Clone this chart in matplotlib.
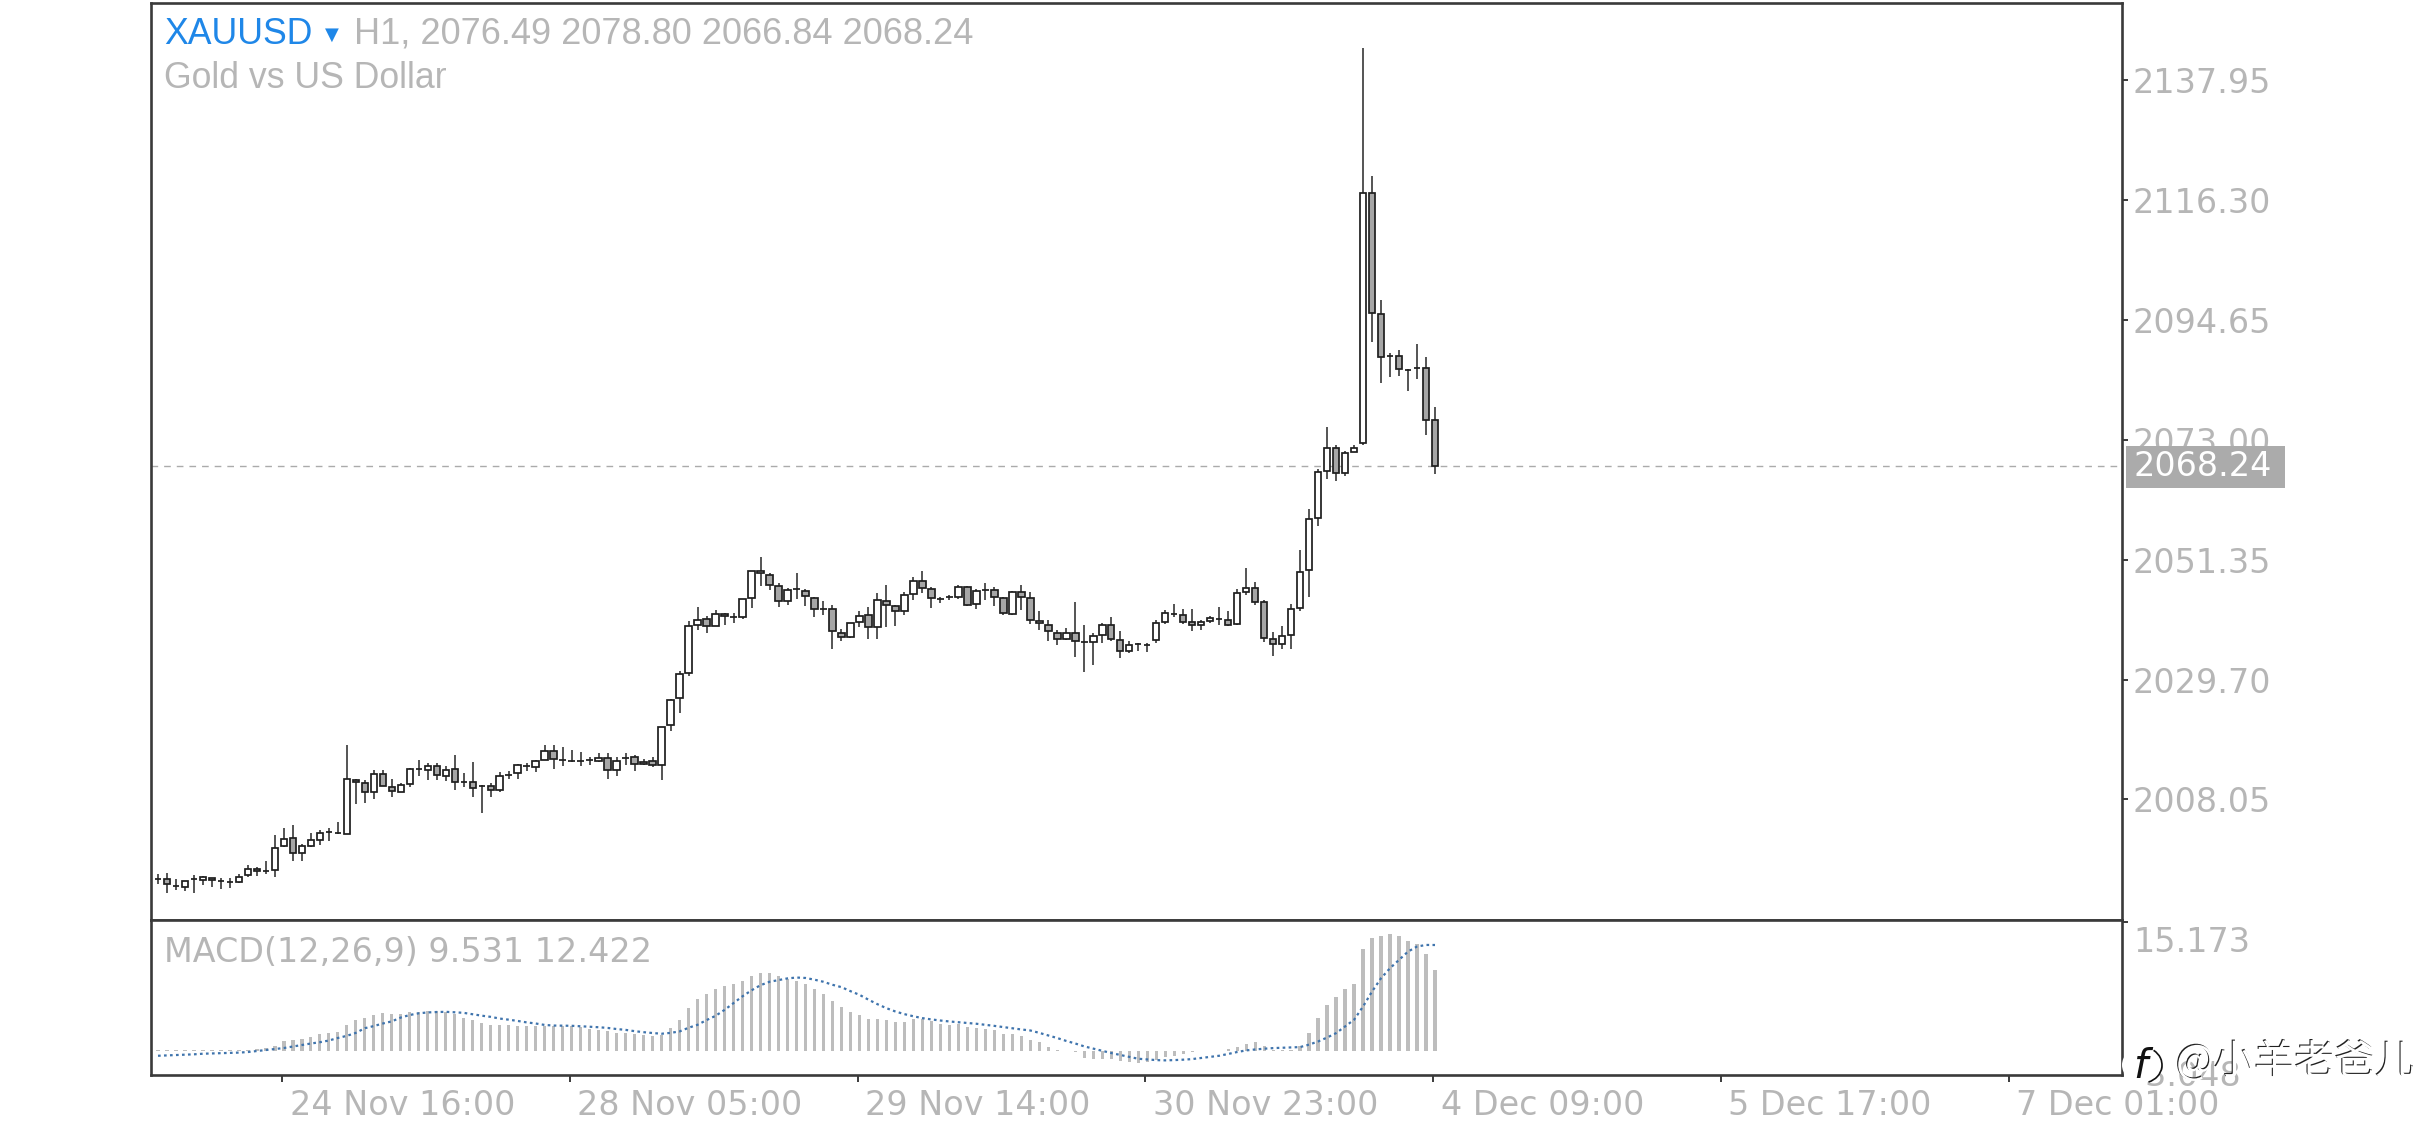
import matplotlib
matplotlib.use("Agg")
import matplotlib.pyplot as plt
import matplotlib.patheffects as pe
from matplotlib.patches import Rectangle, Ellipse, Arc
from matplotlib.transforms import ScaledTranslation, blended_transform_factory

opens = [
 1993.75,1993.63,1992.43,1992.31,1993.69,1993.57,1993.93,1993.33,1993.21,1993.21,
 1994.47,1995.43,1995.19,1995.25,1999.59,2001.15,1998.32,1999.71,2000.73,2002.11,
 2001.99,2001.81,2011.62,2011.08,2009.33,2012.70,2010.30,2009.45,2010.90,2013.54,
 2013.30,2014.09,2012.34,2013.48,2011.26,2011.26,2010.42,2010.54,2009.69,2012.46,
 2012.76,2014.09,2013.85,2015.23,2016.85,2015.23,2014.93,2014.93,2015.17,2015.05,
 2015.59,2013.30,2015.47,2015.77,2014.87,2014.99,2014.33,2021.49,2026.36,2030.82,
 2039.60,2040.56,2039.42,2041.53,2040.93,2040.93,2044.36,2048.87,2048.51,2046.58,
 2043.93,2046.04,2045.62,2044.36,2042.43,2042.49,2038.16,2037.32,2040.02,2041.35,
 2039.12,2043.93,2042.91,2042.07,2045.14,2047.54,2046.04,2044.17,2044.54,2044.54,
 2046.46,2043.27,2045.92,2045.86,2044.36,2041.53,2045.44,2044.36,2039.84,2039.60,
 2038.16,2036.95,2038.16,2036.47,2036.47,2037.80,2039.48,2036.83,2034.79,2036.11,
 2035.99,2036.83,2040.02,2041.59,2041.35,2040.02,2039.48,2040.20,2040.56,2040.37,
 2039.75,2045.45,2046.22,2043.60,2036.98,2036.06,2037.75,2042.60,2049.38,2058.77,
 2067.39,2071.47,2067.01,2070.78,2072.40,2117.52,2095.73,2088.03,2088.03,2085.57,
 2085.87,2085.95,2076.49]
highs = [
 1994.59,1994.71,1993.75,1993.39,1994.41,1994.23,1993.93,1993.81,1993.93,1994.59,
 1996.16,1995.91,1996.88,2001.69,2002.89,2003.38,2000.01,2002.05,2002.53,2002.89,
 2003.98,2017.88,2011.80,2011.56,2013.36,2013.36,2011.68,2010.96,2013.66,2015.17,
 2014.57,2014.69,2014.09,2016.01,2012.88,2014.75,2010.66,2010.96,2013.00,2013.24,
 2014.45,2014.57,2015.17,2017.82,2017.82,2017.58,2016.97,2016.61,2015.65,2016.49,
 2016.37,2015.77,2016.37,2016.01,2015.29,2015.77,2021.19,2026.20,2031.18,2040.20,
 2042.73,2041.17,2042.25,2041.65,2041.77,2044.29,2049.35,2051.76,2048.87,2047.18,
 2046.16,2048.99,2045.98,2044.54,2043.81,2043.21,2038.88,2039.96,2042.13,2042.73,
 2045.38,2046.70,2043.21,2045.50,2048.15,2049.35,2046.34,2044.66,2045.02,2046.70,
 2046.58,2045.98,2047.06,2046.34,2044.54,2045.62,2046.70,2045.50,2042.01,2040.44,
 2038.64,2039.00,2043.69,2039.48,2038.04,2039.96,2041.05,2038.40,2036.71,2036.35,
 2036.23,2040.44,2042.25,2043.33,2042.49,2042.37,2040.44,2041.17,2042.85,2042.06,
 2046.06,2049.91,2047.22,2044.14,2038.36,2039.29,2043.37,2053.15,2060.54,2067.62,
 2075.32,2072.09,2070.86,2072.09,2143.70,2120.60,2098.12,2088.72,2089.18,2085.80,
 2090.26,2087.95,2078.80]
lows = [
 1992.79,1991.22,1991.70,1991.46,1991.22,1992.67,1992.19,1991.82,1992.00,1993.03,
 1994.11,1994.23,1994.59,1994.11,1999.41,1997.00,1996.88,1999.41,1999.77,2000.49,
 2001.81,2001.81,2007.23,2007.47,2008.19,2010.48,2008.55,2009.39,2010.24,2012.28,
 2011.56,2011.56,2011.32,2009.75,2010.36,2008.55,2005.54,2008.55,2009.39,2011.80,
 2011.68,2013.24,2013.00,2015.17,2013.60,2014.09,2014.81,2014.09,2014.33,2014.81,
 2011.68,2012.28,2014.27,2013.24,2014.33,2013.85,2011.56,2020.34,2023.59,2030.40,
 2038.64,2038.04,2039.36,2039.60,2039.84,2040.69,2042.61,2046.58,2045.86,2042.73,
 2043.15,2044.29,2042.97,2040.93,2041.29,2035.27,2036.59,2037.20,2039.12,2037.07,
 2036.95,2039.12,2039.36,2041.41,2044.05,2045.26,2042.61,2043.57,2044.05,2044.17,
 2042.97,2042.37,2044.05,2042.97,2041.29,2041.41,2042.25,2039.72,2038.64,2036.59,
 2035.87,2036.83,2033.71,2031.06,2032.26,2036.35,2036.59,2033.58,2034.55,2034.79,
 2034.67,2036.35,2039.72,2040.93,2039.72,2038.52,2038.64,2039.84,2039.54,2039.29,
 2039.60,2044.91,2043.14,2036.52,2033.90,2035.13,2035.28,2042.06,2044.68,2057.46,
 2065.93,2065.62,2066.39,2070.70,2071.94,2090.57,2083.18,2084.26,2084.56,2081.79,
 2083.95,2073.78,2066.84]
closes = [
 1993.75,1992.79,1992.43,1993.39,1993.69,1993.99,1993.45,1993.33,1993.21,1994.11,
 1995.43,1995.07,1995.19,1999.22,2000.91,1998.32,1999.59,2000.67,2002.05,2002.11,
 2001.99,2011.68,2011.26,2009.33,2012.58,2010.48,2009.51,2010.72,2013.54,2013.54,
 2014.03,2012.40,2013.30,2011.26,2011.26,2010.12,2010.42,2009.69,2012.22,2012.46,
 2014.27,2014.09,2015.05,2016.85,2015.41,2015.23,2014.93,2014.93,2015.17,2015.59,
 2013.30,2015.05,2015.47,2014.51,2014.51,2014.33,2021.19,2026.00,2030.64,2039.42,
 2040.38,2039.30,2041.53,2041.17,2040.93,2044.17,2049.23,2049.23,2046.82,2043.93,
 2045.86,2046.04,2044.72,2042.49,2042.43,2038.40,2037.44,2039.84,2041.17,2039.12,
 2044.00,2043.09,2042.07,2044.90,2047.54,2046.28,2044.36,2044.17,2044.54,2046.46,
 2043.21,2045.68,2045.92,2044.54,2041.77,2045.50,2044.54,2040.44,2040.20,2038.40,
 2037.01,2038.16,2036.65,2036.47,2037.62,2039.48,2036.95,2034.79,2035.87,2036.11,
 2035.99,2039.84,2041.77,2041.59,2040.14,2039.48,2040.02,2040.81,2040.56,2039.60,
 2045.29,2046.22,2043.75,2037.21,2036.06,2037.59,2042.44,2049.14,2058.62,2067.24,
 2071.55,2067.01,2070.63,2071.55,2117.52,2095.81,2087.88,2088.03,2085.80,2085.57,
 2085.87,2076.63,2068.24]
macd_hist = [
 0.05,0.10,0.10,0.05,0.10,0.10,0.05,0.10,0.10,0.10,
 0.10,0.20,0.30,0.51,1.09,1.21,1.41,1.60,1.92,2.07,
 2.19,3.01,3.64,3.83,4.22,4.42,4.34,4.34,4.57,4.61,
 4.69,4.65,4.61,4.34,3.83,3.64,3.25,3.05,3.01,2.97,
 2.93,2.93,2.85,2.93,2.85,2.85,2.85,2.74,2.54,2.46,
 2.31,2.07,2.07,1.99,1.88,1.68,1.88,2.62,3.64,5.00,
 6.06,6.69,7.27,7.62,7.86,8.25,8.80,9.15,9.15,8.80,
 8.48,8.25,7.86,7.31,6.69,5.90,5.12,4.61,4.22,3.75,
 3.75,3.64,3.36,3.40,3.71,3.71,3.44,3.17,3.05,3.09,
 2.78,2.70,2.54,2.38,1.96,1.96,1.76,1.29,0.98,0.39,
 0.04,-0.04,-0.20,-0.86,-0.94,-0.94,-1.02,-1.25,-1.33,-1.41,
 -1.37,-1.13,-0.74,-0.59,-0.35,-0.20,-0.08,-0.04,0.02,0.20,
 0.43,0.82,0.98,0.59,0.12,0.04,0.04,0.59,2.07,3.79,
 5.36,6.26,7.23,7.86,11.96,13.29,13.53,13.69,13.49,12.94,
 12.55,11.34,9.531]
macd_signal = [
 -0.59,-0.55,-0.52,-0.48,-0.42,-0.35,-0.32,-0.28,-0.26,-0.22,
 -0.15,-0.03,0.08,0.20,0.32,0.50,0.68,0.85,1.00,1.20,
 1.50,1.75,2.10,2.65,2.90,3.20,3.45,3.90,4.20,4.40,
 4.50,4.55,4.57,4.52,4.45,4.28,4.12,3.98,3.78,3.65,
 3.50,3.33,3.20,3.03,2.96,2.94,2.93,2.88,2.82,2.76,
 2.68,2.55,2.45,2.30,2.18,2.08,2.00,2.10,2.27,2.70,
 3.05,3.60,4.10,4.80,5.60,6.40,7.10,7.70,8.10,8.30,
 8.50,8.60,8.55,8.35,8.10,7.75,7.47,7.00,6.57,6.00,
 5.47,5.00,4.61,4.30,4.05,3.83,3.68,3.55,3.44,3.35,
 3.25,3.17,3.05,2.92,2.78,2.65,2.50,2.38,2.10,1.80,
 1.49,1.15,0.85,0.51,0.25,0.00,-0.27,-0.50,-0.72,-0.94,
 -1.02,-1.10,-1.13,-1.10,-1.05,-0.98,-0.85,-0.72,-0.59,-0.38,
 -0.15,0.04,0.15,0.24,0.31,0.35,0.38,0.43,0.72,1.09,
 1.55,2.07,2.85,3.64,5.20,6.96,8.52,9.70,10.67,11.65,
 12.24,12.43,12.422]
price_ticks = [2137.95, 2116.30, 2094.65, 2073.00, 2051.35, 2029.70, 2008.05]
time_tick_bars = [14, 46, 78, 110, 142, 174, 206]
time_tick_labels = ["24 Nov 16:00", "28 Nov 05:00", "29 Nov 14:00", "30 Nov 23:00",
                    "4 Dec 09:00", "5 Dec 17:00", "7 Dec 01:00"]
macd_labels = [15.173, -3.048]
last_price = 2068.24

W, H = 2436, 1125
GREY = "#b6b6b6"
FRAME = "#3a3a3a"
AXFONT = "DejaVu Sans"
HEADFONT = "Liberation Sans"
AXSIZE = 24

def fx(x): return x / W
def fy(y): return 1 - y / H

fig = plt.figure(figsize=(W / 100, H / 100), dpi=100, facecolor="white")
ax = fig.add_axes([fx(151), fy(920), fx(2122) - fx(151), fy(3) - fy(920)])
ax2 = fig.add_axes([fx(151), fy(1075), fx(2122) - fx(151), fy(920) - fy(1075)], sharex=ax)

xs = list(range(len(opens)))
step = 8.993
ax.set_xlim((151 - 158) / step, (2122 - 158) / step)
ax.set_ylim(1986.29, 2151.81)
ax2.set_ylim(-2.85, 15.36)

# candles
ax.vlines(xs, lows, highs, color="#262626", lw=1.1, zorder=2)
body_bottom = [min(o, c) for o, c in zip(opens, closes)]
body_height = [abs(c - o) for o, c in zip(opens, closes)]
face = ["white" if c > o else ("#a6a6a6" if c < o else "black") for o, c in zip(opens, closes)]
ax.bar(xs, body_height, bottom=body_bottom, width=0.72, color=face, edgecolor="#1e1e1e",
       linewidth=1.25, zorder=3)
ax.axhline(last_price, color="#ababab", lw=1.0, dashes=(4.8, 4.3), zorder=1)

# MACD
ax2.bar(xs, macd_hist, width=0.36, color="#bdbdbd", linewidth=0, zorder=2)
ax2.plot(xs, macd_signal, color="#3f74ad", lw=1.6, dashes=(1.2, 1.5), zorder=3)

for a in (ax, ax2):
    for s in a.spines.values():
        s.set_color(FRAME)
        s.set_linewidth(1.9)
    a.yaxis.tick_right()

ax.set_yticks(price_ticks)
ax.set_yticklabels([f"{v:.2f}" for v in price_ticks], fontfamily=AXFONT, fontsize=AXSIZE, color=GREY)
ax.tick_params(axis="y", direction="out", length=4.5, width=1.4, color=FRAME, pad=3, right=True)
ax.tick_params(axis="x", bottom=False, labelbottom=False)

ax2.set_yticks([macd_labels[0]])
ax2.set_yticklabels([])
ax2.tick_params(axis="y", direction="out", length=4.5, width=1.4, color=FRAME)
blend = blended_transform_factory(ax2.transAxes, ax2.transData)
for v, dy in zip(macd_labels, (-21, 0)):
    ax2.text(1.0, v, f"{v:.3f}", transform=blend + ScaledTranslation(11 / 100, dy / 100, fig.dpi_scale_trans),
             fontfamily=AXFONT, fontsize=AXSIZE, color=GREY, va="center", ha="left", clip_on=False)

ax2.set_xticks([b - 0.2 for b in time_tick_bars])
ax2.set_xticklabels(time_tick_labels, fontfamily=AXFONT, fontsize=AXSIZE, color=GREY, ha="left")
ax2.tick_params(axis="x", direction="out", length=5, width=1.4, color=FRAME, pad=5)
for t in ax2.get_xticklabels():
    t.set_transform(t.get_transform() + ScaledTranslation(7.5 / 100, 0, fig.dpi_scale_trans))

# header
fig.text(fx(164), fy(34), "XAUUSD", fontfamily=HEADFONT, fontsize=25.7, color="#1f87e8", va="center", ha="left")
fig.text(fx(325), fy(35), "\u25BC", fontfamily="DejaVu Sans", fontsize=13, color="#1f87e8", va="center", ha="left")
fig.text(fx(354), fy(34), "H1, 2076.49 2078.80 2066.84 2068.24", fontfamily=HEADFONT, fontsize=26,
         color=GREY, va="center", ha="left")
fig.text(fx(164), fy(78), "Gold vs US Dollar", fontfamily=HEADFONT, fontsize=25.7, color=GREY, va="center", ha="left")
fig.text(fx(164), fy(952), "MACD(12,26,9) 9.531 12.422", fontfamily=AXFONT, fontsize=AXSIZE, color=GREY,
         va="center", ha="left")

# current price tag
fig.add_artist(Rectangle((fx(2126), fy(488)), fx(2285) - fx(2126), fy(446) - fy(488), transform=fig.transFigure,
                         facecolor="#ababab", edgecolor="none", zorder=5))
fig.text(fx(2133), fy(467), f"{last_price:.2f}", fontfamily=AXFONT, fontsize=AXSIZE, color="white",
         va="center", ha="left", zorder=6)

# watermark
emboss = [pe.withSimplePatchShadow(offset=(-0.8, 0.8), shadow_rgbFace="#222222", alpha=1.0)]
fig.add_artist(Ellipse((fx(2142), fy(1065)), 40 / W, 36 / H, transform=fig.transFigure,
                       facecolor="white", edgecolor="none", zorder=7))
fig.add_artist(Arc((fx(2142), fy(1065)), 40 / W, 36 / H, theta1=-80, theta2=70, transform=fig.transFigure,
                   color="#111111", lw=1.2, zorder=8))
fig.text(fx(2140), fy(1066), "f", fontfamily="DejaVu Sans", style="italic", fontsize=29, color="#111111",
         va="center", ha="center", zorder=8)
fig.text(fx(2176), fy(1062), "@\u5c0f\u7f8a\u8001\u7238\u513f", fontfamily=["Noto Sans CJK SC", "DejaVu Sans"],
         fontsize=29, color="white", va="center", ha="left", zorder=8, path_effects=emboss)

fig.savefig("out.png", dpi=100, facecolor="white")
